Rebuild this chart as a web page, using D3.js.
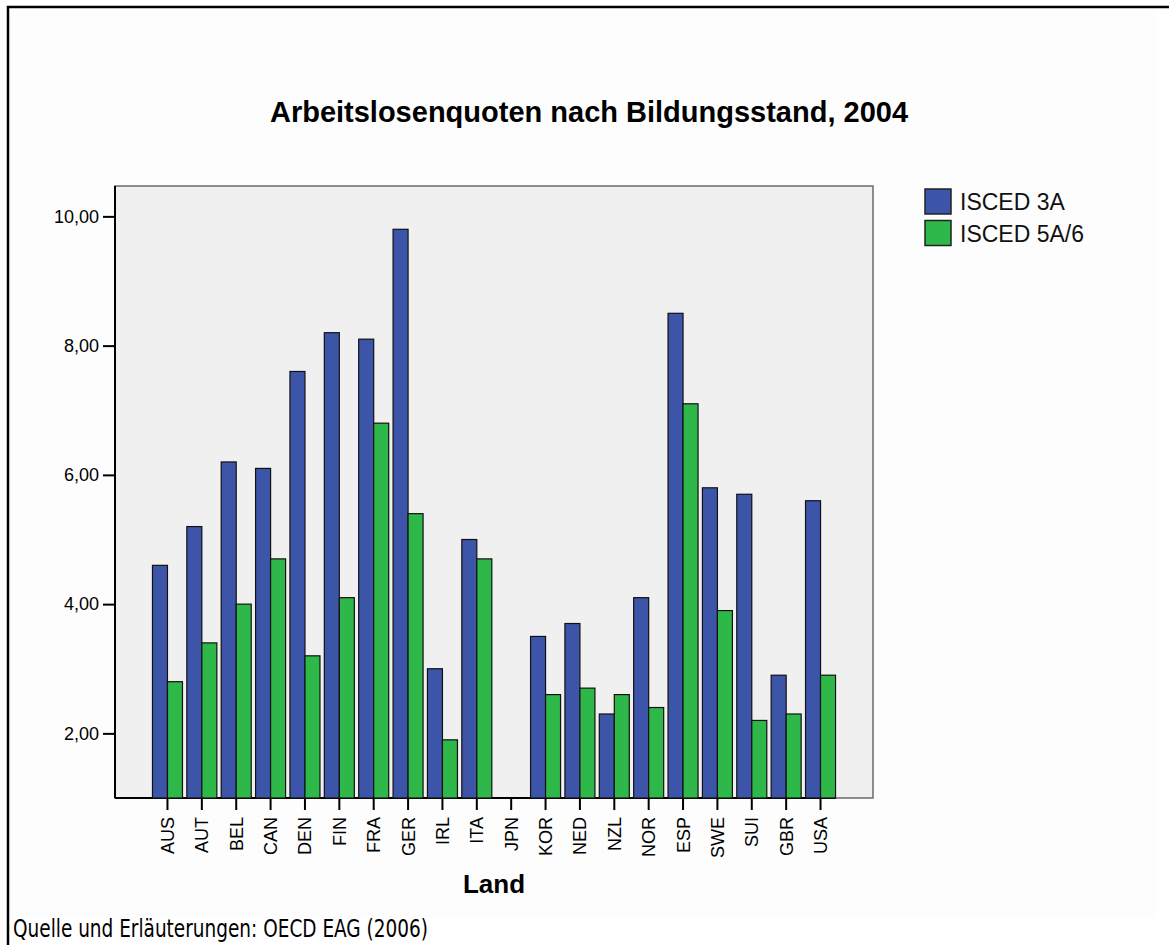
<!DOCTYPE html>
<html>
<head>
<meta charset="utf-8">
<script src="https://cdn.jsdelivr.net/npm/d3@7"></script>
<style>
  body { margin: 0; background: #ffffff; }
  text { font-family: "Liberation Sans", Arial, sans-serif; }
</style>
</head>
<body>
<script>
'use strict';

// countries on the x axis
const countries = ["AUS", "AUT", "BEL", "CAN", "DEN", "FIN", "FRA", "GER", "IRL", "ITA",
  "JPN", "KOR", "NED", "NZL", "NOR", "ESP", "SWE", "SUI", "GBR", "USA"];

// series names (legend)
const seriesNames = ["ISCED 3A", "ISCED 5A/6"];

// unemployment rates, JPN has no data
const isced3A = [4.6, 5.2, 6.2, 6.1, 7.6, 8.2, 8.1, 9.8, 3.0, 5.0,
  null, 3.5, 3.7, 2.3, 4.1, 8.5, 5.8, 5.7, 2.9, 5.6];
const isced5A6 = [2.8, 3.4, 4.0, 4.7, 3.2, 4.1, 6.8, 5.4, 1.9, 4.7,
  null, 2.6, 2.7, 2.6, 2.4, 7.1, 3.9, 2.2, 2.3, 2.9];

// y axis ticks
const yTicks = [2, 4, 6, 8, 10];

(function() {

  let svgContainer = "";
  const colors = ["#3d55a9", "#2fb84a"];

  // plot area
  const plot = { left: 115, right: 873, top: 186, bottom: 798 };

  window.onload = function() {
    svgContainer = d3.select('body')
      .append('svg')
      .attr('width', 1169)
      .attr('height', 945);

    drawFrame();
    let scales = drawAxes();
    plotData(scales);
    makeLegend();
    makeLabels();
  }

  // outer border and chart background
  function drawFrame() {
    svgContainer.append('rect')
      .attr('x', 10).attr('y', 10)
      .attr('width', 1147).attr('height', 908)
      .attr('fill', '#fdfdfd');

    svgContainer.append('path')
      .attr('d', 'M8,945V7H1169')
      .attr('fill', 'none')
      .attr('stroke', '#000')
      .attr('stroke-width', 2.5);

    svgContainer.append('rect')
      .attr('x', plot.left).attr('y', plot.top)
      .attr('width', plot.right - plot.left)
      .attr('height', plot.bottom - plot.top)
      .attr('fill', '#f0f0f0')
      .attr('stroke', '#6a6a6a')
      .attr('stroke-width', 1.5);
  }

  // draw axes and return scales
  function drawAxes() {
    let yScale = d3.scaleLinear()
      .domain([1, 10.47])
      .range([plot.bottom, plot.top]);

    let xScale = d3.scaleBand()
      .domain(countries)
      .range([plot.left, plot.right])
      .paddingInner(0.127)
      .paddingOuter(1.09);

    let xInner = d3.scaleBand()
      .domain(seriesNames)
      .range([0, xScale.bandwidth()]);

    // y axis on the left
    let yAxis = d3.axisLeft(yScale)
      .tickValues(yTicks)
      .tickSize(12)
      .tickPadding(4)
      .tickFormat(d => d3.format(".2f")(d).replace(".", ","));
    let gy = svgContainer.append('g')
      .attr('transform', 'translate(' + plot.left + ',0)')
      .call(yAxis);
    gy.select('.domain').remove();
    gy.selectAll('.tick line').attr('stroke', '#000').attr('stroke-width', 2);
    gy.selectAll('.tick text')
      .style('font-size', '18px')
      .attr('fill', '#000');

    // x axis at the bottom, labels rotated
    let xAxis = d3.axisBottom(xScale)
      .tickSize(12)
      .tickPadding(0);
    let gx = svgContainer.append('g')
      .attr('transform', 'translate(0,' + plot.bottom + ')')
      .call(xAxis);
    gx.select('.domain').remove();
    gx.selectAll('.tick line').attr('stroke', '#000').attr('stroke-width', 2);
    gx.selectAll('.tick text')
      .style('font-size', '18px')
      .attr('fill', '#000')
      .attr('text-anchor', 'end')
      .attr('dy', null)
      .attr('y', 0)
      .attr('transform', 'translate(6.5,19)rotate(-90)');

    // black axis lines
    svgContainer.append('line')
      .attr('x1', plot.left).attr('x2', plot.left)
      .attr('y1', plot.top).attr('y2', plot.bottom)
      .attr('stroke', '#000').attr('stroke-width', 2);
    svgContainer.append('line')
      .attr('x1', plot.left).attr('x2', xScale(countries[countries.length - 1]) + xScale.bandwidth())
      .attr('y1', plot.bottom).attr('y2', plot.bottom)
      .attr('stroke', '#000').attr('stroke-width', 2);

    return { x: xScale, xInner: xInner, y: yScale };
  }

  // grouped bars
  function plotData(s) {
    let rows = countries.map((c, i) => ({ country: c, values: [isced3A[i], isced5A6[i]] }));

    let groups = svgContainer.selectAll('.group')
      .data(rows)
      .enter()
      .append('g')
      .attr('class', 'group')
      .attr('transform', d => 'translate(' + s.x(d.country) + ',0)');

    groups.selectAll('rect')
      .data(d => d.values.map((v, k) => ({ series: seriesNames[k], value: v, k: k }))
        .filter(e => e.value !== null))
      .enter()
      .append('rect')
      .attr('x', d => s.xInner(d.series))
      .attr('width', s.xInner.bandwidth())
      .attr('y', d => s.y(d.value))
      .attr('height', d => s.y(1) - s.y(d.value))
      .attr('fill', d => colors[d.k])
      .attr('stroke', '#111')
      .attr('stroke-width', 1.2);
  }

  // legend on the right
  function makeLegend() {
    let legend = svgContainer.append('g')
      .attr('transform', 'translate(925,189)');

    seriesNames.forEach((name, i) => {
      legend.append('rect')
        .attr('x', 0).attr('y', i * 31.5)
        .attr('width', 26).attr('height', 25)
        .attr('fill', colors[i])
        .attr('stroke', '#222')
        .attr('stroke-width', 1.5);
      legend.append('text')
        .attr('x', 35).attr('y', i * 31.5 + 21)
        .style('font-size', '23px')
        .attr('fill', '#111')
        .text(name);
    });
  }

  // title, axis title and source note
  function makeLabels() {
    svgContainer.append('text')
      .attr('x', 589).attr('y', 122)
      .attr('text-anchor', 'middle')
      .style('font-size', '29px')
      .style('font-weight', 'bold')
      .text('Arbeitslosenquoten nach Bildungsstand, 2004');

    svgContainer.append('text')
      .attr('x', (plot.left + plot.right) / 2).attr('y', 893)
      .attr('text-anchor', 'middle')
      .style('font-size', '26px')
      .style('font-weight', 'bold')
      .text('Land');

    svgContainer.append('text')
      .attr('x', 13).attr('y', 937)
      .style('font-family', '"Liberation Sans Narrow", "DejaVu Sans Condensed", sans-serif')
      .style('font-size', '25px')
      .attr('textLength', 415)
      .attr('lengthAdjust', 'spacingAndGlyphs')
      .text('Quelle und Erläuterungen: OECD EAG (2006)');
  }
})();
</script>
</body>
</html>
